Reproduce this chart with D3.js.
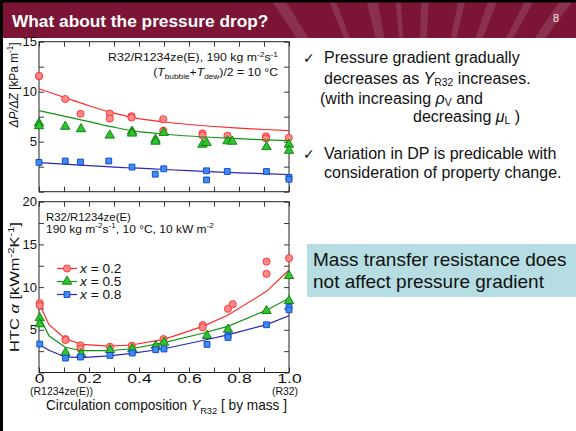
<!DOCTYPE html>
<html><head><meta charset="utf-8">
<script src="https://cdn.jsdelivr.net/npm/d3@7"></script>
<style>
body{margin:0;background:#fff}
svg{display:block;font-family:"Liberation Sans",Arial,sans-serif}
</style>
</head><body>
<svg id="c" width="576" height="431"></svg>
<script>
// ---------------- data ----------------
// Top panel: pressure gradient dP/dZ [kPa/m], measured points
const dpRedX   = [0, 0, 0.105, 0.166, 0.283, 0.283, 0.37, 0.37, 0.497, 0.497, 0.654, 0.654, 0.754, 0.908, 0.908, 0.999];
const dpRedY   = [11.56, 11.56, 9.27, 7.79, 7.82, 7.31, 7.55, 7.42, 7.25, 6.10, 5.83, 5.63, 5.60, 5.53, 5.33, 5.39];
const dpGreenX = [0, 0, 0.105, 0.168, 0.283, 0.372, 0.372, 0.466, 0.466, 0.499, 0.654, 0.670, 0.754, 0.773, 0.91, 1.0, 1.0];
const dpGreenY = [6.84, 6.57, 6.51, 6.27, 5.63, 6.03, 5.83, 5.22, 5.02, 5.90, 4.72, 4.89, 5.06, 5.02, 4.48, 4.72, 4.11];
const dpBlueX  = [0, 0.105, 0.166, 0.279, 0.372, 0.465, 0.499, 0.670, 0.670, 0.753, 0.91, 1.0, 1.0];
const dpBlueY  = [2.93, 3.07, 2.97, 3.07, 2.46, 1.75, 2.29, 2.09, 1.18, 2.02, 2.02, 1.42, 1.25];
// Top panel: predicted curves
const dpLineX     = [0, 0.1, 0.2, 0.3, 0.4, 0.5, 0.6, 0.7, 0.8, 0.9, 1.0];
const dpLineRed   = [10.3, 9.45, 8.6, 7.85, 7.3, 6.97, 6.72, 6.52, 6.36, 6.22, 6.1];
const dpLineGreen = [8.1, 7.55, 7.0, 6.45, 6.0, 5.77, 5.57, 5.42, 5.3, 5.18, 5.1];
const dpLineBlue  = [2.9, 2.75, 2.6, 2.45, 2.35, 2.22, 2.1, 1.98, 1.88, 1.8, 1.72];

// Bottom panel: HTC alpha [kW m-2 K-1], measured points
const htcRedX   = [0.003, 0.003, 0.106, 0.106, 0.166, 0.166, 0.284, 0.371, 0.498, 0.655, 0.655, 0.756, 0.775, 0.91, 0.91, 1.0];
const htcRedY   = [8.12, 7.85, 3.91, 3.80, 3.17, 2.78, 3.02, 3.13, 3.91, 5.55, 5.28, 7.46, 8.0, 12.99, 11.55, 13.38];
const htcGreenX = [0.003, 0.003, 0.106, 0.169, 0.284, 0.373, 0.467, 0.5, 0.672, 0.756, 0.91, 1.0, 1.0];
const htcGreenY = [6.37, 5.67, 2.32, 2.16, 2.63, 2.75, 3.13, 3.52, 4.30, 5.04, 7.22, 11.32, 8.39];
const htcBlueX  = [0.003, 0.106, 0.166, 0.284, 0.373, 0.467, 0.5, 0.672, 0.756, 0.756, 0.91, 1.0, 1.0];
const htcBlueY  = [3.33, 1.69, 1.81, 2.00, 2.28, 2.67, 2.75, 3.29, 4.30, 4.10, 5.59, 7.65, 7.34];
// Bottom panel: predicted curves
const htcLineX     = [0.003, 0.04, 0.105, 0.17, 0.28, 0.37, 0.5, 0.655, 0.755, 0.91, 1.0];
const htcLineRed   = [7.93, 5.6, 3.95, 3.3, 3.1, 3.22, 3.88, 5.4, 6.7, 9.5, 12.0];
const htcLineGreen = [6.45, 4.3, 2.95, 2.55, 2.55, 2.78, 3.5, 4.6, 5.4, 7.3, 8.7];
const htcLineBlue  = [3.25, 2.6, 1.82, 1.75, 1.95, 2.25, 2.78, 3.75, 4.4, 5.6, 6.65];

// ticks / labels
const xTicks = [0, 0.1, 0.2, 0.3, 0.4, 0.5, 0.6, 0.7, 0.8, 0.9, 1.0];
const xTickLabels = {0: "0", 0.2: "0.2", 0.4: "0.4", 0.6: "0.6", 0.8: "0.8", 1: "1.0"};
const yTopTicks = [0, 2.5, 5, 7.5, 10, 12.5, 15];
const yTopLabels = [5, 10, 15];
const yBotTicks = [0, 2.5, 5, 7.5, 10, 12.5, 15, 17.5, 20];
const yBotLabels = [5, 10, 15, 20];
const legendLabels = ["0.2", "0.5", "0.8"];

// ---------------- drawing ----------------
const svg = d3.select("#c");
const C = {red: "#ff2a2a", redFill: "#ff8a8a", green: "#119411", greenFill: "#2fc42f",
           greenStroke: "#0a7a0a", blue: "#2828b4", blueFill: "#3a8ef0", blueStroke: "#1040c8"};

// slide header
const maroon = "#7c1436";
svg.append("rect").attr("x", 0).attr("y", 0).attr("width", 576).attr("height", 38).attr("fill", maroon);
svg.append("clipPath").attr("id", "hdr").append("rect").attr("width", 576).attr("height", 38);
const rays = [[278, 14], [332, 7], [372, 11], [398, 5], [425, 8], [462, 7], [493, 9], [530, 9], [567, 13]];
const rg = svg.append("g").attr("clip-path", "url(#hdr)");
rays.forEach(([xt, w]) => {
  rg.append("path").attr("d", `M416,213L${xt - w / 2},0L${xt + w / 2},0Z`)
    .attr("fill", "#fff").attr("opacity", 0.12);
});
svg.append("rect").attr("x", 0).attr("y", 0).attr("width", 576).attr("height", 2.5).attr("fill", "#000");
svg.append("rect").attr("x", 0).attr("y", 0).attr("width", 3).attr("height", 431).attr("fill", "#000");
svg.append("text").attr("x", 12).attr("y", 27).attr("fill", "#fff")
  .style("font-size", "17.3px").style("font-weight", "bold").text("What about the pressure drop?");
svg.append("text").attr("x", 556).attr("y", 22).attr("fill", "#f2e6ea").attr("text-anchor", "middle")
  .style("font-size", "11px").text("8");

// helpers
function rich(t, segs, subShift, subScale) {
  const size = parseFloat(t.style("font-size"));
  const sb = subShift == null ? 0.25 : subShift;
  const sc = subScale || 0.68;
  let shift = 0;
  segs.forEach(s => {
    const ts = t.append("tspan").text(s.t);
    const target = s.sup ? -0.38 : s.sub ? sb : 0;
    const d = (target - shift) * size;
    if (d) ts.attr("dy", d.toFixed(2));
    shift = target;
    if (s.sup || s.sub) ts.style("font-size", (size * sc) + "px");
    if (s.i) ts.style("font-style", "italic");
  });
}
function label(x, y, rot, anchor, size, targetW, segs) {
  const g = svg.append("g");
  const t = g.append("text").attr("text-anchor", anchor).style("font-size", size + "px").attr("fill", "#111");
  rich(t, segs);
  const w = t.node().getBBox().width;
  const k = targetW ? targetW / w : 1;
  g.attr("transform", `translate(${x},${y})` + (rot ? ` rotate(${rot})` : "") + ` scale(${k.toFixed(3)},1)`);
  return g;
}

// scales
const x = d3.scaleLinear([0, 1], [39, 289]);
const yTop = d3.scaleLinear([0, 15], [191.7, 41.7]);
const yBot = d3.scaleLinear([0, 20], [372.5, 201.7]);

function frame(y, yTicks, yLabels, showX) {
  const g = svg.append("g");
  const fmtY = d => yLabels.includes(d) ? String(d) : "";
  const left = g.append("g").attr("transform", `translate(${x(0)},0)`)
    .call(d3.axisLeft(y).tickValues(yTicks).tickSizeInner(-5).tickSizeOuter(0).tickPadding(2).tickFormat(fmtY));
  g.append("g").attr("transform", `translate(${x(1)},0)`)
    .call(d3.axisRight(y).tickValues(yTicks).tickSizeInner(-5).tickSizeOuter(0).tickFormat(""));
  const bot = g.append("g").attr("transform", `translate(0,${y.range()[0]})`)
    .call(d3.axisBottom(x).tickValues(xTicks).tickSizeInner(-5).tickSizeOuter(0).tickPadding(4)
      .tickFormat(d => showX ? (xTickLabels[d] || "") : ""));
  g.append("g").attr("transform", `translate(0,${y.range()[1]})`)
    .call(d3.axisTop(x).tickValues(xTicks).tickSizeInner(-5).tickSizeOuter(0).tickFormat(""));
  g.selectAll(".domain").remove();
  g.selectAll(".tick line").attr("stroke", "#222").attr("stroke-width", 0.9);
  g.selectAll("text").style("font-family", '"Liberation Sans",Arial,sans-serif').style("font-size", "12.5px").attr("fill", "#111");
  left.selectAll("text").style("font-size", "13px");
  bot.selectAll("text").attr("transform", "scale(1.4,1)").attr("y", 2).attr("dy", "0.7em");
  g.append("rect").attr("x", x(0)).attr("y", y.range()[1]).attr("width", x(1) - x(0))
    .attr("height", y.range()[0] - y.range()[1]).attr("fill", "none").attr("stroke", "#222").attr("stroke-width", 1);
}
frame(yTop, yTopTicks, yTopLabels, false);
frame(yBot, yBotTicks, yBotLabels, true);

const sym = {
  circle: d3.symbol().type(d3.symbolCircle).size(40),
  tri: d3.symbol().type(d3.symbolTriangle).size(38),
  sq: d3.symbol().type(d3.symbolSquare).size(34)
};
function series(y, lx, ly, px, py, curve, color, fill, stroke, shape) {
  const line = d3.line().x((d, i) => x(lx[i])).y(d => y(d)).curve(curve);
  svg.append("path").attr("d", line(ly)).attr("fill", "none").attr("stroke", color).attr("stroke-width", 1.2);
  svg.append("g").selectAll("path").data(px).join("path")
    .attr("transform", (d, i) => `translate(${x(d)},${y(py[i])})`)
    .attr("d", sym[shape]()).attr("fill", fill).attr("stroke", stroke).attr("stroke-width", 0.9);
}
// top
series(yTop, dpLineX, dpLineRed, dpRedX, dpRedY, d3.curveMonotoneX, C.red, C.redFill, C.red, "circle");
series(yTop, dpLineX, dpLineGreen, dpGreenX, dpGreenY, d3.curveMonotoneX, C.green, C.greenFill, C.greenStroke, "tri");
series(yTop, dpLineX, dpLineBlue, dpBlueX, dpBlueY, d3.curveMonotoneX, C.blue, C.blueFill, C.blueStroke, "sq");
// bottom
series(yBot, htcLineX, htcLineRed, htcRedX, htcRedY, d3.curveLinear, C.red, C.redFill, C.red, "circle");
series(yBot, htcLineX, htcLineGreen, htcGreenX, htcGreenY, d3.curveLinear, C.green, C.greenFill, C.greenStroke, "tri");
series(yBot, htcLineX, htcLineBlue, htcBlueX, htcBlueY, d3.curveLinear, C.blue, C.blueFill, C.blueStroke, "sq");

// legend
const lg = [[C.red, C.redFill, C.red, "circle"], [C.green, C.greenFill, C.greenStroke, "tri"], [C.blue, C.blueFill, C.blueStroke, "sq"]];
const legY = [268.5, 281.5, 294.5];
legendLabels.forEach((lab, i) => {
  const [c, f, s, sh] = lg[i];
  svg.append("line").attr("x1", 57).attr("x2", 77).attr("y1", legY[i]).attr("y2", legY[i]).attr("stroke", c).attr("stroke-width", 1.2);
  svg.append("path").attr("transform", `translate(67,${legY[i]})`).attr("d", sym[sh]()).attr("fill", f).attr("stroke", s).attr("stroke-width", 0.9);
  label(80, legY[i] + 4, 0, "start", 12, 43, [{t: "x", i: 1}, {t: " = " + lab}]);
});

// annotations
label(278, 61, 0, "end", 11, 170, [{t: "R32/R1234ze(E),  190 kg m"}, {t: "-2", sup: 1}, {t: "s"}, {t: "-1", sup: 1}]);
label(278, 76, 0, "end", 11, 125, [{t: "("}, {t: "T", i: 1}, {t: "bubble", sub: 1}, {t: "+"}, {t: "T", i: 1}, {t: "dew", sub: 1}, {t: ")/2 = 10 °C"}]);
label(46, 221, 0, "start", 11, 85, [{t: "R32/R1234ze(E)"}]);
label(46, 232.5, 0, "start", 11, 168, [{t: "190 kg m"}, {t: "-2", sup: 1}, {t: "s"}, {t: "-1", sup: 1}, {t: ", 10 °C, 10 kW m"}, {t: "-2", sup: 1}]);

// axis titles
label(18, 85, -90, "middle", 12.5, 86, [{t: "ΔP/ΔZ", i: 1}, {t: "  [kPa m"}, {t: "-1", sup: 1}, {t: "]"}]);
label(19, 287, -90, "middle", 13.5, 130, [{t: "HTC  "}, {t: "α", i: 1}, {t: "  [kWm"}, {t: "-2", sup: 1}, {t: "K"}, {t: "-1", sup: 1}, {t: "]"}]);
label(166.5, 410, 0, "middle", 14, 241, [{t: "Circulation composition  "}, {t: "Y", i: 1}, {t: "R32", sub: 1}, {t: "  [ by mass ]"}]);
label(61.5, 395, 0, "middle", 10, 63, [{t: "(R1234ze(E))"}]);
label(285, 395, 0, "middle", 10, 26, [{t: "(R32)"}]);

// right-hand text
const rt = svg.append("g").attr("fill", "#111");
function line(xp, yp, segs) {
  const t = rt.append("text").attr("x", xp).attr("y", yp).style("font-size", "16px");
  rich(t, segs, 0.15, 0.65);
}
rt.append("text").attr("x", 303).attr("y", 63).style("font-family", '"DejaVu Sans",sans-serif').style("font-size", "14px").text("✓");
rt.append("text").attr("x", 303).attr("y", 159).style("font-family", '"DejaVu Sans",sans-serif').style("font-size", "14px").text("✓");
line(324, 63, [{t: "Pressure gradient gradually"}]);
line(324, 84, [{t: "decreases as "}, {t: "Y", i: 1}, {t: "R32", sub: 1}, {t: " increases."}]);
line(320, 103.5, [{t: "(with increasing "}, {t: "ρ", i: 1}, {t: "V", sub: 1}, {t: " and"}]);
line(413, 122, [{t: "decreasing "}, {t: "μ", i: 1}, {t: "L", sub: 1}, {t: " )"}]);
line(324, 159, [{t: "Variation in DP is predicable with"}]);
line(324, 178, [{t: "consideration of property change."}]);

// highlighted box
svg.append("rect").attr("x", 307).attr("y", 244).attr("width", 269).attr("height", 53).attr("fill", "#b5dde2");
svg.append("text").attr("x", 313).attr("y", 266).style("font-size", "19px").attr("fill", "#111").text("Mass transfer resistance does");
svg.append("text").attr("x", 313).attr("y", 288).style("font-size", "19px").attr("fill", "#111").text("not affect pressure gradient");
</script>
</body></html>
